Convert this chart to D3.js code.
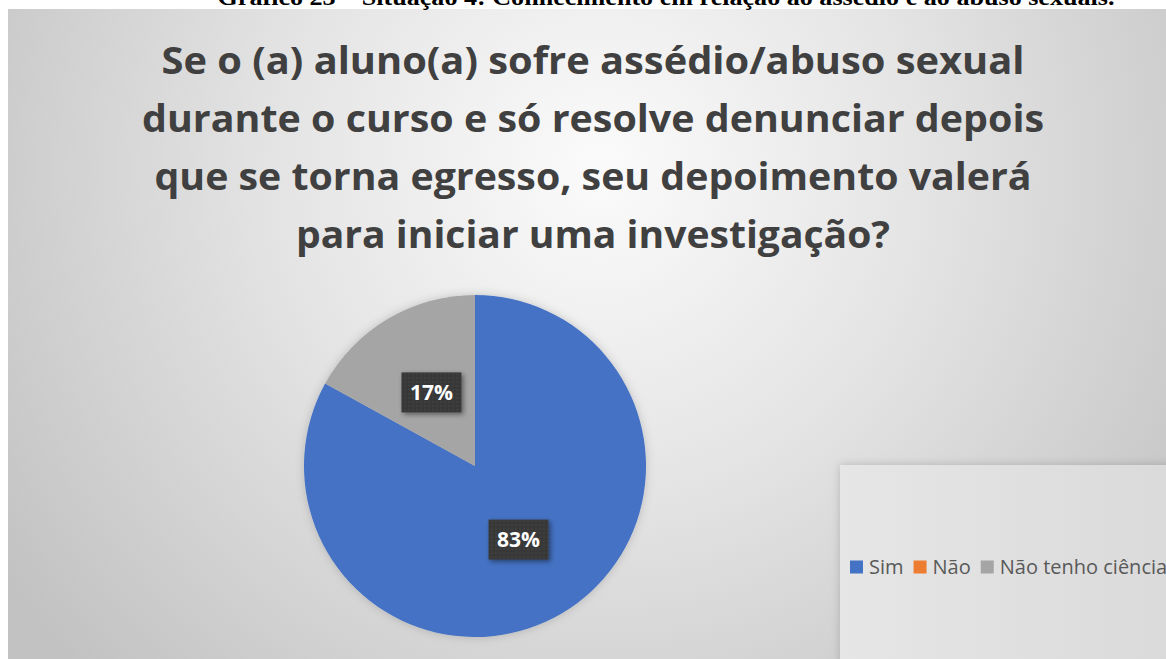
<!DOCTYPE html>
<html>
<head>
<meta charset="utf-8">
<script src="https://cdn.jsdelivr.net/npm/d3@7"></script>
<style>
  html, body { margin: 0; padding: 0; background: #ffffff; overflow: hidden; }
  svg { display: block; }
</style>
</head>
<body>
<svg id="chart" width="1166" height="659"></svg>
<script>
/* Pie: conhecimento sobre denúncia de assédio após a conclusão do curso. */

const categories = ["Sim", "Não", "Não tenho ciência"];
const values = [83, 0, 17];
const sliceColors = ["#4472C4", "#ED7D31", "#A5A5A5"];

const titleLines = [
  "Se o (a) aluno(a) sofre assédio/abuso sexual",
  "durante o curso e só resolve denunciar depois",
  "que se torna egresso, seu depoimento valerá",
  "para iniciar uma investigação?"
];
const captionText = "Gráfico 23 – Situação 4: Conhecimento em relação ao assédio e ao abuso sexuais.";

const W = 1166, H = 659;
const svg = d3.select("#chart");
const defs = svg.append("defs");

/* ---------- BACKGROUND ---------- */

const bg = defs.append("radialGradient")
  .attr("id", "bg").attr("gradientUnits", "userSpaceOnUse")
  .attr("cx", 600).attr("cy", 170).attr("r", 720);
bg.append("stop").attr("offset", 0).attr("stop-color", "#fbfbfb");
bg.append("stop").attr("offset", 0.45).attr("stop-color", "#e4e4e4");
bg.append("stop").attr("offset", 1).attr("stop-color", "#c2c2c2");

const legendBg = defs.append("linearGradient").attr("id", "legendBg")
  .attr("x1", 0).attr("y1", 0).attr("x2", 1).attr("y2", 0);
legendBg.append("stop").attr("offset", 0).attr("stop-color", "#e6e6e6");
legendBg.append("stop").attr("offset", 1).attr("stop-color", "#dadada");

/* Excel-style dotted fill for the data labels */
const dots = defs.append("pattern").attr("id", "dots")
  .attr("patternUnits", "userSpaceOnUse").attr("width", 4).attr("height", 4);
dots.append("rect").attr("width", 4).attr("height", 4).attr("fill", "#383838");
dots.append("rect").attr("x", 1).attr("y", 1).attr("width", 1).attr("height", 1).attr("fill", "#555555");

const shadow = defs.append("filter").attr("id", "shadow")
  .attr("x", "-30%").attr("y", "-30%").attr("width", "160%").attr("height", "160%");
shadow.append("feDropShadow").attr("dx", 2).attr("dy", 2).attr("stdDeviation", 2.5)
  .attr("flood-color", "#000").attr("flood-opacity", 0.45);

const softShadow = defs.append("filter").attr("id", "softShadow")
  .attr("x", "-20%").attr("y", "-20%").attr("width", "140%").attr("height", "140%");
softShadow.append("feDropShadow").attr("dx", 0).attr("dy", 0).attr("stdDeviation", 5)
  .attr("flood-color", "#000").attr("flood-opacity", 0.18);

svg.append("rect").attr("x", 8).attr("y", 9).attr("width", W - 8).attr("height", H - 9)
  .attr("fill", "url(#bg)");

/* caption of the document, cut by the top edge as in the source */
svg.append("text")
  .attr("x", 666).attr("y", 5)
  .attr("text-anchor", "middle")
  .attr("font-family", "'Liberation Serif', 'Times New Roman', serif")
  .attr("font-weight", "bold")
  .attr("font-size", 24)
  .attr("textLength", 897).attr("lengthAdjust", "spacingAndGlyphs")
  .attr("fill", "#000")
  .text(captionText);

/* ---------- TITLE ---------- */

const titleWidths = [863, 902, 877, 594];
const titleY = d3.scaleLinear().domain([0, 1]).range([74, 132]);
svg.append("g").selectAll("text")
  .data(titleLines)
  .join("text")
  .attr("x", 593)
  .attr("y", (d, i) => titleY(i))
  .attr("text-anchor", "middle")
  .attr("font-family", "'Open Sans', 'Noto Sans', sans-serif")
  .attr("font-weight", "bold")
  .attr("font-size", 37)
  .attr("fill", "#404040")
  .attr("textLength", (d, i) => titleWidths[i])
  .attr("lengthAdjust", "spacingAndGlyphs")
  .text(d => d);

/* ---------- PIE ---------- */

const cx = 475, cy = 466, R = 171;
const pie = d3.pie().sort(null).value(d => d.value);
const arcs = pie(categories.map((c, i) => ({ name: c, value: values[i], color: sliceColors[i] })));
const arc = d3.arc().innerRadius(0).outerRadius(R);

const pieG = svg.append("g").attr("transform", `translate(${cx},${cy})`);
pieG.append("g").attr("filter", "url(#softShadow)")
  .selectAll("path")
  .data(arcs.filter(d => d.data.value > 0))
  .join("path")
  .attr("d", arc)
  .attr("fill", d => d.data.color);

const labels = pieG.append("g").selectAll("g")
  .data(arcs.filter(d => d.data.value > 0))
  .join("g")
  .attr("transform", d => `translate(${arc.centroid(d)})`);

labels.append("rect")
  .attr("x", -30).attr("y", -20).attr("width", 60).attr("height", 40)
  .attr("fill", "url(#dots)")
  .attr("filter", "url(#shadow)");

labels.append("text")
  .attr("text-anchor", "middle")
  .attr("dy", "0.36em")
  .attr("font-family", "'Open Sans', 'Noto Sans', sans-serif")
  .attr("font-weight", "bold")
  .attr("font-size", 21)
  .attr("fill", "#ffffff")
  .text(d => d.data.value + "%");

/* ---------- LEGEND ---------- */

svg.append("rect")
  .attr("x", 840).attr("y", 465).attr("width", W - 840 + 10).attr("height", H - 465 + 10)
  .attr("fill", "url(#legendBg)")
  .attr("filter", "url(#softShadow)");

const legend = svg.append("g").attr("transform", "translate(850,567)");
let lx = 0;
categories.forEach(function (c, i) {
  const item = legend.append("g").attr("transform", `translate(${lx},0)`);
  item.append("rect")
    .attr("x", 0).attr("y", -6.5).attr("width", 13).attr("height", 13)
    .attr("fill", sliceColors[i]);
  const t = item.append("text")
    .attr("x", 19).attr("dy", "0.35em")
    .attr("font-family", "'Open Sans', 'Noto Sans', sans-serif")
    .attr("font-size", 20)
    .attr("fill", "#595959")
    .text(c);
  lx += 19 + t.node().getComputedTextLength() + 10;
});
</script>
</body>
</html>
